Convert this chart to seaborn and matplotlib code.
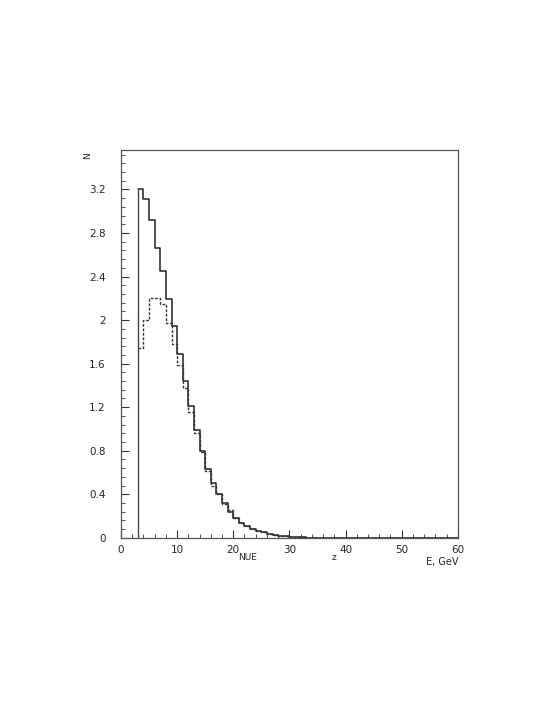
import numpy as np
import pandas as pd
import seaborn as sns
import matplotlib.pyplot as plt
from matplotlib.ticker import MultipleLocator

# bin left edges (GeV), 1 GeV bins from 3 to 60
bin_lo = list(range(3, 60))

# solid histogram
solid = [3.20, 3.11, 2.92, 2.66, 2.45, 2.19, 1.95, 1.69, 1.44, 1.21,
         0.99, 0.80, 0.63, 0.50, 0.40, 0.32, 0.24, 0.18, 0.14, 0.11,
         0.085, 0.065, 0.05, 0.038, 0.028, 0.020, 0.013, 0.009, 0.006, 0.004,
         0.003, 0.002, 0.0015, 0.001, 0.001, 0.0008, 0.0006, 0.0005, 0.0004, 0.0003,
         0.0002, 0.0002, 0.0001, 0.0001, 0.0001, 0, 0, 0, 0, 0,
         0, 0, 0, 0, 0, 0, 0]

# dashed histogram
dashed = [1.74, 2.00, 2.20, 2.20, 2.15, 1.97, 1.78, 1.59, 1.38, 1.16,
          0.96, 0.79, 0.61, 0.48, 0.40, 0.31, 0.26, 0.18, 0.14, 0.11,
          0.085, 0.065, 0.05, 0.038, 0.028, 0.020, 0.013, 0.009, 0.006, 0.004,
          0.003, 0.002, 0.0015, 0.001, 0.001, 0.0008, 0.0006, 0.0005, 0.0004, 0.0003,
          0.0002, 0.0002, 0.0001, 0.0001, 0.0001, 0, 0, 0, 0, 0,
          0, 0, 0, 0, 0, 0, 0]

x_ticks = [0, 10, 20, 30, 40, 50, 60]
y_ticks = [0, 0.4, 0.8, 1.2, 1.6, 2, 2.4, 2.8, 3.2]

sns.set_style("ticks")
plt.rcParams['font.family'] = ['DejaVu Sans']

df = pd.DataFrame({"E": np.array(bin_lo) + 0.5, "solid": solid, "dashed": dashed})

fig = plt.figure(figsize=(5.45, 7.05), dpi=100)
ax = fig.add_axes([0.222, 0.237, 0.618, 0.550])

sns.histplot(data=df, x="E", weights="solid", binwidth=1, binrange=(3, 60),
             element="step", fill=False, color="#222222", linewidth=1.1, ax=ax)
sns.histplot(data=df, x="E", weights="dashed", binwidth=1, binrange=(3, 60),
             element="step", fill=False, color="#333333", linewidth=1.0,
             linestyle=(0, (2, 1.2)), ax=ax)
# left edge of the first bin, down to zero
ax.vlines(bin_lo[0], 0, solid[0], color="#444444", linewidth=1.0)

ax.set_xlim(0, 60)
ax.set_ylim(0, 3.56)
ax.set_xticks(x_ticks)
ax.set_xticklabels([str(v) for v in x_ticks])
ax.set_yticks(y_ticks)
ax.set_yticklabels([f"{v:g}" for v in y_ticks])
ax.xaxis.set_minor_locator(MultipleLocator(2))
ax.yaxis.set_minor_locator(MultipleLocator(0.08))
ax.tick_params(which="major", direction="in", length=6, width=0.8,
               labelsize=7.5, color="#333333", pad=5)
ax.tick_params(which="minor", direction="in", length=3, width=0.6, color="#333333")
ax.tick_params(axis="y", pad=11)
ax.set_xlabel("")
ax.set_ylabel("")
for s in ax.spines.values():
    s.set_color("#555555")
    s.set_linewidth(0.9)

fig.text(88 / 545, 1 - 156 / 705, "N", rotation=90, fontsize=6.5, ha="center", va="center")
fig.text(248 / 545, 1 - 558 / 705, "NUE", fontsize=6.5, ha="center", va="center")
fig.text(334 / 545, 1 - 558 / 705, "z", fontsize=6.5, ha="center", va="center")
fig.text(442 / 545, 1 - 562 / 705, "E, GeV", fontsize=7, ha="center", va="center")

fig.savefig("out.png", dpi=100, facecolor="white")
